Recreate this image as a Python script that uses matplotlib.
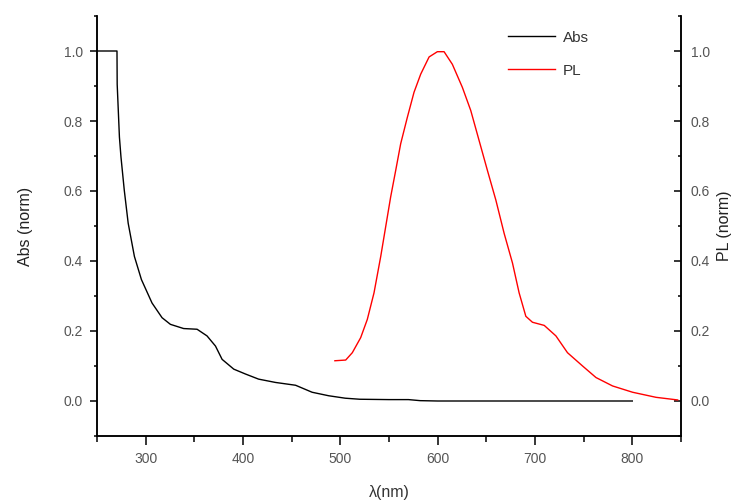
import matplotlib.pyplot as plt
from matplotlib.ticker import MultipleLocator

plt.rcParams['font.family'] = ['Liberation Sans', 'DejaVu Sans']

# absorption (black)
abs_x = [250, 270.5, 270.7, 273, 274.6, 278, 282, 288.4, 295.6, 306.5, 316.8, 325.4,
         339, 352.8, 363, 371.7, 378.5, 390.5, 402.6, 416, 433.4, 454, 471, 488,
         505, 520, 550, 570, 582, 600, 650, 700, 750, 800]
abs_y = [1.0, 1.0, 0.905, 0.754, 0.697, 0.602, 0.508, 0.413, 0.347, 0.280, 0.238, 0.219,
         0.207, 0.205, 0.186, 0.157, 0.119, 0.091, 0.077, 0.0625, 0.053, 0.045, 0.025, 0.015,
         0.008, 0.005, 0.004, 0.004, 0.001, 0.0, 0.0, 0.0, 0.0, 0.0]

# photoluminescence (red)
pl_x = [494.4, 505.5, 512.3, 520.9, 527.7, 534.6, 541.5, 546.6, 551.7, 556.9, 562,
        568.8, 575.7, 582.6, 591.2, 599.7, 606.6, 615.1, 625.4, 634, 642.6, 651.1,
        659.8, 668.3, 676.9, 683.7, 690.6, 697.4, 709.5, 721.5, 733.4, 748.9, 762.7,
        779.7, 800.3, 824.4, 846.6]
pl_y = [0.115, 0.117, 0.138, 0.181, 0.233, 0.309, 0.413, 0.498, 0.583, 0.659, 0.735,
        0.810, 0.882, 0.934, 0.983, 0.998, 0.998, 0.962, 0.896, 0.830, 0.744, 0.659,
        0.574, 0.479, 0.394, 0.309, 0.242, 0.225, 0.216, 0.186, 0.138, 0.100, 0.067,
        0.043, 0.025, 0.0105, 0.003]

fig = plt.figure(figsize=(7.47, 5), dpi=100)
ax = fig.add_axes([0.1299, 0.128, 0.7817, 0.84])
ax2 = ax.twinx()

l1, = ax.plot(abs_x, abs_y, color='black', lw=1.0, label='Abs')
l2, = ax2.plot(pl_x, pl_y, color='red', lw=1.0, label='PL')

ax.set_xlim(250, 850)
for a in (ax, ax2):
    a.set_ylim(-0.1, 1.1)
    a.yaxis.set_major_locator(MultipleLocator(0.2))
    a.yaxis.set_minor_locator(MultipleLocator(0.1))
    a.spines['top'].set_visible(False)
    for s in a.spines.values():
        s.set_linewidth(1.1)
ax.xaxis.set_major_locator(MultipleLocator(100))
ax.xaxis.set_minor_locator(MultipleLocator(50))
ax.set_yticks([0, 0.2, 0.4, 0.6, 0.8, 1.0])
ax2.set_yticks([0, 0.2, 0.4, 0.6, 0.8, 1.0])
ax.yaxis.set_major_formatter(plt.FormatStrFormatter('%.1f'))
ax2.yaxis.set_major_formatter(plt.FormatStrFormatter('%.1f'))

ax.tick_params(axis='both', which='major', direction='out', length=5, width=1.1,
               labelsize=10, labelcolor='#555555', pad=5)
ax.tick_params(axis='both', which='minor', direction='out', length=2.5, width=1.1)
ax.tick_params(axis='x', which='major', length=6.5, pad=5)
ax.tick_params(axis='x', which='minor', length=4.5)
ax2.tick_params(axis='y', which='major', direction='in', length=5, width=1.1,
                labelsize=10, labelcolor='#555555', pad=7)
ax2.tick_params(axis='y', which='minor', direction='in', length=2.5, width=1.1)

ax.set_xlabel('λ(nm)', fontsize=11.5, color='#333333', labelpad=14)
ax.set_ylabel('Abs (norm)', fontsize=11.5, color='#222222', labelpad=22)
ax2.set_ylabel('PL (norm)', fontsize=11.5, color='#222222', labelpad=5)

ax2.legend([l1, l2], ['Abs', 'PL'], frameon=False, fontsize=11,
           loc='upper left', bbox_to_anchor=(0.68, 0.998), handlelength=3.1,
           labelspacing=1.25, handletextpad=0.5, labelcolor='#333333')

fig.savefig('out.png', dpi=100)
